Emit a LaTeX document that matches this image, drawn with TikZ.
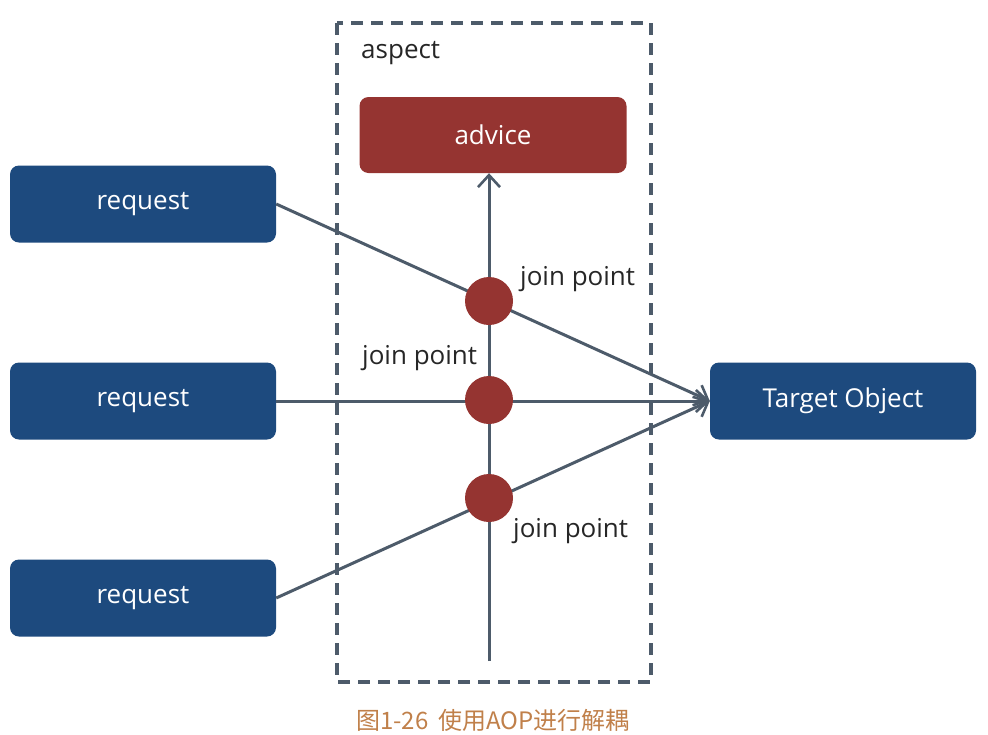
\documentclass[tikz,border=0pt]{standalone}
\usepackage{fontspec}
\setmainfont{Open Sans}
\newfontfamily\cjkfont{Noto Sans CJK SC}
\usepackage{tikz}
\usetikzlibrary{arrows.meta,shapes}
\definecolor{boxblue}{HTML}{1D4A7E}
\definecolor{boxred}{HTML}{953431}
\definecolor{linegray}{HTML}{4D5B6A}
\definecolor{captionbrown}{HTML}{C0804A}
\tikzstyle{request box}=[node font=\fontsize{26}{30}\selectfont, fill=boxblue, text=white, rounded corners=9pt, minimum width=266pt, minimum height=77pt, inner sep=0pt]
\tikzstyle{advice box}=[node font=\fontsize{26}{30}\selectfont, fill=boxred, text=white, rounded corners=9pt, minimum width=267pt, minimum height=76pt, inner sep=0pt]
\tikzstyle{join vertex}=[fill=boxred, circle, draw=none, inner sep=0pt, minimum size=48pt]
\tikzstyle{edge} = [draw=linegray, line width=3pt, -{Straight Barb[length=12pt,width=22pt,line width=2.6pt]}]
\tikzstyle{frame} = [draw=linegray, line width=3.2pt, dash pattern=on 12pt off 8pt]
\tikzstyle{note} = [draw=none, node font=\fontsize{26}{30}\selectfont, text=black!85, anchor=west, inner sep=0pt]

\begin{document}
\begin{tikzpicture}[x=1pt, y=-1pt]
	\useasboundingbox (0,0) rectangle (988,734);
	% The aspect frame
	\path[frame] (337,23) rectangle (651,682);
	\node[note] (aspect) at (361,53) {aspect};
	
	% First we draw the boxes
	\foreach \pos/\label/\name in {
		{(143,204)/r1/request},
		{(143,401)/r2/request},
		{(143,598)/r3/request},
		{(843,401)/target/Target Object}}
	\node[request box] (\label) at \pos {\name};
	
	\node[advice box] (advice) at (493,135) {advice};
	\coordinate (bottom) at (489,661);
	
	% Connect boxes with edges
	\foreach \source/ \dest in {
		r1/target,
		r2/target,
		r3/target}
	\path[edge] (\source.east) -- (\dest.west);
	\path[edge] (bottom) -- (bottom |- advice.south);
	
	% Join points
	\foreach \pos/\label in {
		{(489,301)/j1},
		{(489,400)/j2},
		{(489,498)/j3}}
	\node[join vertex] (\label) at \pos {};
	
	\foreach \pos/\label in {
		{(520,279)/n1},
		{(362,358)/n2},
		{(513,531)/n3}}
	\node[note] (\label) at \pos {join point};
	
	% Caption
	\node[note, anchor=center, text=captionbrown, node font=\cjkfont\fontsize{24}{28}\selectfont] (caption) at (493,720) {图1-26\hspace{10pt}使用AOP进行解耦};
\end{tikzpicture}
\end{document}
